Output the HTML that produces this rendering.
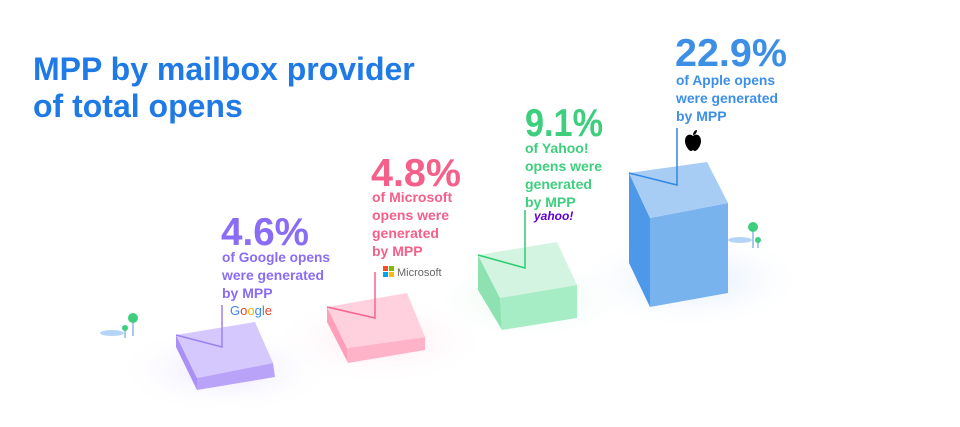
<!DOCTYPE html>
<html><head><meta charset="utf-8"><style>
html,body{margin:0;padding:0;background:#fff;}
svg{display:block;font-family:"Liberation Sans",Arial,sans-serif;font-weight:bold;}
</style></head><body>
<svg width="960" height="427" viewBox="0 0 960 427" xmlns="http://www.w3.org/2000/svg">
<defs>
<radialGradient id="gp" cx="50%" cy="50%" r="50%"><stop offset="0" stop-color="#e4dcff" stop-opacity=".8"/><stop offset="1" stop-color="#fff" stop-opacity="0"/></radialGradient>
<radialGradient id="gk" cx="50%" cy="50%" r="50%"><stop offset="0" stop-color="#ffe0ea" stop-opacity=".8"/><stop offset="1" stop-color="#fff" stop-opacity="0"/></radialGradient>
<radialGradient id="gg" cx="50%" cy="50%" r="50%"><stop offset="0" stop-color="#dcf6e6" stop-opacity=".8"/><stop offset="1" stop-color="#fff" stop-opacity="0"/></radialGradient>
<radialGradient id="gb" cx="50%" cy="50%" r="50%"><stop offset="0" stop-color="#d6e8fb" stop-opacity=".9"/><stop offset="1" stop-color="#fff" stop-opacity="0"/></radialGradient>
</defs>
<ellipse cx="225" cy="370" rx="110" ry="45" fill="url(#gp)"/>
<ellipse cx="380" cy="340" rx="110" ry="45" fill="url(#gk)"/>
<ellipse cx="530" cy="300" rx="110" ry="45" fill="url(#gg)"/>
<ellipse cx="690" cy="280" rx="120" ry="50" fill="url(#gb)"/>

<text x="33" y="80" font-size="32" fill="#1f7ae6">MPP by mailbox provider</text>
<text x="33" y="117" font-size="32" fill="#1f7ae6">of total opens</text>

<!-- Google box -->
<polygon points="176,335 197,378 197,390 176,347" fill="#a98ff6"/>
<polygon points="197,378 273,363 275,377 197,390" fill="#b9a3f9"/>
<polygon points="176,335 255,322 273,363 197,378" fill="#d4c8fc"/>
<polyline points="176,335 222,347 222,305" fill="none" stroke="#9b82f3" stroke-width="1.5"/>
<text x="221" y="245" font-size="39" fill="#8a6cf5" textLength="88" lengthAdjust="spacingAndGlyphs">4.6%</text>
<text x="222" y="262" font-size="14" fill="#8a6cf5" textLength="108" lengthAdjust="spacingAndGlyphs">of Google opens</text>
<text x="222" y="280" font-size="14" fill="#8a6cf5" textLength="102" lengthAdjust="spacingAndGlyphs">were generated</text>
<text x="222" y="298" font-size="14" fill="#8a6cf5">by MPP</text>
<text x="230" y="315" font-size="13" font-weight="normal"><tspan fill="#4285f4">G</tspan><tspan fill="#ea4335">o</tspan><tspan fill="#fbbc05">o</tspan><tspan fill="#4285f4">g</tspan><tspan fill="#34a853">l</tspan><tspan fill="#ea4335">e</tspan></text>

<!-- Microsoft box -->
<polygon points="327,307 347,348 348,363 327,322" fill="#ff9fbb"/>
<polygon points="347,348 425,337 425,350 348,363" fill="#ffb3c9"/>
<polygon points="327,307 407,293 425,337 347,348" fill="#ffd0dd"/>
<polyline points="327,307 375,318 375,272" fill="none" stroke="#f5658f" stroke-width="1.5"/>
<text x="371" y="186" font-size="39" fill="#f5608a" textLength="90" lengthAdjust="spacingAndGlyphs">4.8%</text>
<text x="372" y="202" font-size="14" fill="#f5608a">of Microsoft</text>
<text x="372" y="220" font-size="14" fill="#f5608a">opens were</text>
<text x="372" y="238" font-size="14" fill="#f5608a">generated</text>
<text x="372" y="256" font-size="14" fill="#f5608a">by MPP</text>
<rect x="383" y="266" width="5" height="5" fill="#f25022"/><rect x="389" y="266" width="5" height="5" fill="#7fba00"/>
<rect x="383" y="272" width="5" height="5" fill="#00a4ef"/><rect x="389" y="272" width="5" height="5" fill="#ffb900"/>
<text x="397" y="276" font-size="11" font-weight="normal" fill="#666">Microsoft</text>

<!-- Yahoo box -->
<polygon points="478,255 500,298 502,330 478,290" fill="#8ee2b2"/>
<polygon points="500,298 577,285 577,318 502,330" fill="#a6ecc5"/>
<polygon points="478,255 557,242 577,285 500,298" fill="#d2f4e1"/>
<polyline points="478,255 525,268 525,210" fill="none" stroke="#2ecc71" stroke-width="1.5"/>
<text x="525" y="136" font-size="39" fill="#3ecf7e" textLength="78" lengthAdjust="spacingAndGlyphs">9.1%</text>
<text x="525" y="153" font-size="14" fill="#3ecf7e">of Yahoo!</text>
<text x="525" y="171" font-size="14" fill="#3ecf7e">opens were</text>
<text x="525" y="189" font-size="14" fill="#3ecf7e">generated</text>
<text x="525" y="207" font-size="14" fill="#3ecf7e">by MPP</text>
<text x="534" y="220" font-size="12" fill="#6001d2" font-style="italic">yahoo!</text>

<!-- Apple box -->
<polygon points="629,173 650,218 650,307 629,263" fill="#4d98e8"/>
<polygon points="650,218 728,203 728,293 650,307" fill="#79b3ee"/>
<polygon points="629,173 707,162 728,203 650,218" fill="#a8cdf5"/>
<polyline points="629,173 677,185 677,128" fill="none" stroke="#2f86e6" stroke-width="1.5"/>
<text x="675" y="66" font-size="39" fill="#3d8fe6" textLength="112" lengthAdjust="spacingAndGlyphs">22.9%</text>
<text x="676" y="85" font-size="14" fill="#3d8fe6" textLength="99" lengthAdjust="spacingAndGlyphs">of Apple opens</text>
<text x="676" y="103" font-size="14" fill="#3d8fe6" textLength="102" lengthAdjust="spacingAndGlyphs">were generated</text>
<text x="676" y="121" font-size="14" fill="#3d8fe6">by MPP</text>
<path d="M693,136 c-3,-3 -8,-1 -8,5 c0,5 4,10 6,10 c1,0 2,-1 2,-1 c0,0 1,1 2,1 c2,0 6,-5 6,-10 c0,-6 -5,-8 -8,-5z" fill="#000"/>
<path d="M693,135 c0,-3 2,-5 4,-5 c0,3 -2,5 -4,5z" fill="#000"/>

<!-- trees -->
<ellipse cx="112" cy="333" rx="12" ry="3" fill="#b6d4f5"/>
<line x1="133" y1="320" x2="133" y2="336" stroke="#8bb5e8" stroke-width="1.5"/>
<circle cx="133" cy="318" r="5" fill="#3ecf7e"/>
<line x1="125" y1="330" x2="125" y2="338" stroke="#8bb5e8" stroke-width="1.5"/>
<circle cx="125" cy="328" r="3" fill="#3ecf7e"/>
<ellipse cx="740" cy="240" rx="12" ry="3" fill="#b6d4f5"/>
<line x1="753" y1="230" x2="753" y2="248" stroke="#8bb5e8" stroke-width="1.5"/>
<circle cx="753" cy="227" r="5" fill="#3ecf7e"/>
<line x1="758" y1="242" x2="758" y2="248" stroke="#8bb5e8" stroke-width="1.5"/>
<circle cx="758" cy="240" r="3" fill="#3ecf7e"/>
</svg>
</body></html>
